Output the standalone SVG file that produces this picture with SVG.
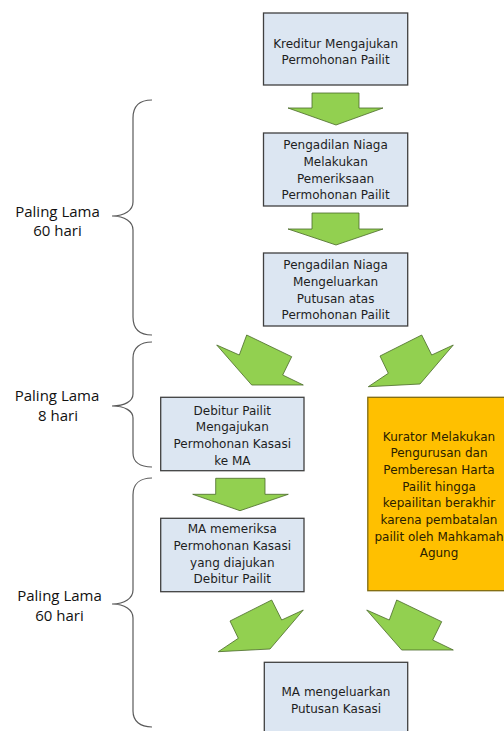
<svg xmlns="http://www.w3.org/2000/svg" width="504" height="731" viewBox="0 0 504 731">
<style>
.box{fill:#dce6f2;stroke:#404040;stroke-width:1.3}
.obox{fill:#ffc000;stroke:#7f6a10;stroke-width:1.3}
.arr{fill:#92d050;stroke:#4a6a2a;stroke-width:0.8;stroke-linejoin:miter}
.t{font-family:"DejaVu Sans",sans-serif;font-size:12px;fill:#1e1e1e;text-anchor:middle}
.ot{font-family:"DejaVu Sans",sans-serif;font-size:12px;fill:#2a2000;text-anchor:middle}
.lbl{font-family:"Open Sans",sans-serif;font-size:15px;fill:#111;text-anchor:middle}
.brace{fill:none;stroke:#5a5a5a;stroke-width:1.2}
</style>
<rect width="504" height="731" fill="#fff"/>

<g id="braces">
<path class="brace" d="M152,100 C140,100 133,106 133,118 L133,202 C133,210 125,216 112,216 C125,216 133,222 133,230 L133,317 C133,329 140,335 152,335"/>
<path class="brace" d="M152,342 C140,342 133,348 133,358 L133,394 C133,401 125,406 112,406 C125,406 133,411 133,418 L133,453 C133,462 140,467 152,467"/>
<path class="brace" d="M152,478 C140,478 133,484 133,495 L133,590 C133,598 125,604 112,604 C125,604 133,610 133,618 L133,711 C133,721 140,727 152,727"/>
</g>

<g id="label1">
<text class="lbl" x="57.5" y="216.5">Paling Lama</text>
<text class="lbl" x="57.5" y="235.5">60 hari</text>
</g>
<g id="label2">
<text class="lbl" x="57" y="400.5">Paling Lama</text>
<text class="lbl" x="58" y="421">8 hari</text>
</g>
<g id="label3">
<text class="lbl" x="59.5" y="600.5">Paling Lama</text>
<text class="lbl" x="59.5" y="621">60 hari</text>
</g>

<g id="connectors">
<polygon class="arr" points="312,93 359,93 359,108 383,108 336,125 288,108 312,108"/>
<polygon class="arr" points="312,213 359,213 359,229 383,229 336,245 288,229 312,229"/>
<polygon class="arr" points="216.7,345 239.3,355 246.7,335 291.7,356.7 282.7,375 303.3,385 251.7,385"/>
<polygon class="arr" points="421.7,335 431.7,355 453.3,345 420,384 368.3,386.7 388.3,373.3 380,356"/>
<polygon class="arr" points="215.7,478.3 265,478.3 265,494.3 288.3,494.3 240,510.7 192.7,494.3 215.7,494.3"/>
<polygon class="arr" points="271.7,600 281.7,620 303.3,610 270,649 218.3,651.7 238.3,638.3 230,621"/>
<polygon class="arr" points="366.7,610 389.3,620 396.7,600 441.7,621.7 432.7,640 453.3,650 401.7,650"/>
</g>

<g id="n1">
<rect class="box" x="263.5" y="13" width="144.2" height="72"/>
<text class="t" x="335.6" y="47.8">Kreditur Mengajukan</text>
<text class="t" x="335.6" y="64.4">Permohonan Pailit</text>
</g>
<g id="n2">
<rect class="box" x="263.5" y="133" width="144.2" height="73"/>
<text class="t" x="335.6" y="149.4">Pengadilan Niaga</text>
<text class="t" x="335.6" y="166">Melakukan</text>
<text class="t" x="335.6" y="182.7">Pemeriksaan</text>
<text class="t" x="335.6" y="199.3">Permohonan Pailit</text>
</g>
<g id="n3">
<rect class="box" x="263.5" y="253" width="144.2" height="73"/>
<text class="t" x="335.6" y="269.3">Pengadilan Niaga</text>
<text class="t" x="335.6" y="286">Mengeluarkan</text>
<text class="t" x="335.6" y="302.7">Putusan atas</text>
<text class="t" x="335.6" y="319.3">Permohonan Pailit</text>
</g>
<g id="n4">
<rect class="box" x="160.7" y="397.3" width="143.3" height="73.4"/>
<text class="t" x="232.3" y="414.7">Debitur Pailit</text>
<text class="t" x="232.3" y="431.3">Mengajukan</text>
<text class="t" x="232.3" y="448">Permohonan Kasasi</text>
<text class="t" x="232.3" y="464.7">ke MA</text>
</g>
<g id="n5">
<rect class="obox" x="367.8" y="397.3" width="145" height="193.4"/>
<text class="ot" x="439" y="440.7">Kurator Melakukan</text>
<text class="ot" x="439" y="457.3">Pengurusan dan</text>
<text class="ot" x="439" y="474">Pemberesan Harta</text>
<text class="ot" x="439" y="490.7">Pailit hingga</text>
<text class="ot" x="439" y="507.3">kepailitan berakhir</text>
<text class="ot" x="439" y="524">karena pembatalan</text>
<text class="ot" x="439" y="540.7">pailit oleh Mahkamah</text>
<text class="ot" x="439" y="557.3">Agung</text>
</g>
<g id="n6">
<rect class="box" x="160.7" y="518.3" width="143.3" height="73.4"/>
<text class="t" x="232.3" y="533.3">MA memeriksa</text>
<text class="t" x="232.3" y="550">Permohonan Kasasi</text>
<text class="t" x="232.3" y="566.7">yang diajukan</text>
<text class="t" x="232.3" y="583.3">Debitur Pailit</text>
</g>
<g id="n7">
<rect class="box" x="264.3" y="662.3" width="143.4" height="80"/>
<text class="t" x="336" y="696.3">MA mengeluarkan</text>
<text class="t" x="336" y="713">Putusan Kasasi</text>
</g>
</svg>
